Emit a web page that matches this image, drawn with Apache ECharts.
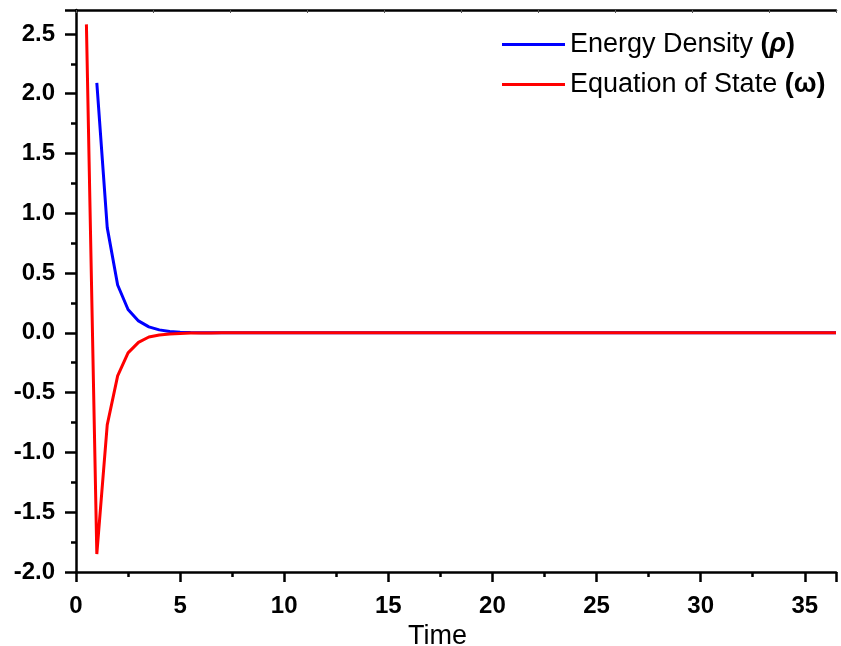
<!DOCTYPE html>
<html>
<head>
<meta charset="utf-8">
<script src="https://cdn.jsdelivr.net/npm/echarts@6/dist/echarts.min.js"></script>
<style>html,body{margin:0;padding:0;background:#fff}#c{width:841px;height:646px}</style>
</head>
<body>
<div id="c"></div>
<script>
var times = [0.5, 1, 1.5, 2, 2.5, 3, 3.5, 4, 4.5, 5, 5.5, 6, 6.5, 7, 8, 9, 10, 12, 14, 16, 18, 20, 22, 24, 26, 28, 30, 32, 34, 36, 36.5];
var energyDensity = [null, 2.09, 0.88, 0.40, 0.195, 0.10, 0.05, 0.025, 0.012, 0.006, 0.003, 0.0015, 0.0008, 0.0004, 0, 0, 0, 0, 0, 0, 0, 0, 0, 0, 0, 0, 0, 0, 0, 0, 0];
var equationOfState = [2.58, -1.85, -0.77, -0.36, -0.167, -0.08, -0.035, -0.018, -0.009, -0.0045, -0.002, -0.001, -0.0005, -0.0002, 0, 0, 0, 0, 0, 0, 0, 0, 0, 0, 0, 0, 0, 0, 0, 0, 0];
var yTicks = ['-2.0', '-1.5', '-1.0', '-0.5', '0.0', '0.5', '1.0', '1.5', '2.0', '2.5'];

function pairs(ys) {
  var out = [];
  for (var i = 0; i < times.length; i++) {
    if (ys[i] !== null) out.push([times[i], ys[i]]);
  }
  return out;
}

var FF = 'Liberation Sans, Arial, sans-serif';
var chart = echarts.init(document.getElementById('c'));
var labelFont = {fontFamily: FF, fontWeight: 'bold', fontSize: 24, color: '#000'};
chart.setOption({
  animation: false,
  grid: {left: 76, right: 5, top: 10, bottom: 74, containLabel: false, outerBoundsMode: 'none'},
  legend: {
    left: 497, top: 26, orient: 'vertical', itemGap: 13,
    itemWidth: 63, itemHeight: 3, icon: 'rect',
    textStyle: {fontFamily: FF, fontSize: 27, color: '#000', padding: [0, 0, 0, 0],
      rich: {b: {fontFamily: FF, fontSize: 27, fontWeight: 'bold'},
             i: {fontFamily: FF, fontSize: 27, fontWeight: 'bold', fontStyle: 'italic'}}},
    formatter: function (n) {
      if (n === 'Energy Density (ρ)') return 'Energy Density {b|(}{i|ρ}{b|)}';
      return 'Equation of State {b|(ω)}';
    },
    data: ['Energy Density (ρ)', 'Equation of State (ω)']
  },
  xAxis: [{
    type: 'value', min: 0, max: 36.5, interval: 5,
    name: 'Time', nameLocation: 'middle', nameGap: 45,
    nameTextStyle: {fontFamily: FF, fontSize: 27, color: '#000', padding: [0, 37, 0, 0]},
    axisLine: {show: true, onZero: false, lineStyle: {color: '#000', width: 2.5}},
    axisTick: {show: true, length: 10, lineStyle: {color: '#000', width: 2.5}},
    minorTick: {show: true, splitNumber: 2, length: 5, lineStyle: {color: '#000', width: 2.5}},
    axisLabel: Object.assign({margin: 22, showMaxLabel: false}, labelFont),
    splitLine: {show: false}
  }, {
    type: 'value', position: 'top', min: 0, max: 36.5, interval: 3.7,
    axisLine: {show: true, onZero: false, lineStyle: {color: '#000', width: 2.5}},
    axisTick: {show: true, inside: true, length: 3, lineStyle: {color: '#555', width: 1}},
    axisLabel: {show: false}, splitLine: {show: false}
  }],
  yAxis: {
    type: 'value', min: -2, max: 2.7, interval: 0.5,
    axisLine: {show: true, onZero: false, lineStyle: {color: '#000', width: 2.5}},
    axisTick: {show: true, length: 11, lineStyle: {color: '#000', width: 2.5}},
    minorTick: {show: true, splitNumber: 2, length: 5, lineStyle: {color: '#000', width: 2.5}},
    axisLabel: Object.assign({margin: 21, showMaxLabel: false, formatter: function (v) {
      var i = Math.round((v + 2) / 0.5); return yTicks[i] !== undefined ? yTicks[i] : '';
    }}, labelFont),
    splitLine: {show: false}
  },
  series: [{
    name: 'Energy Density (ρ)', type: 'line', showSymbol: false, symbol: 'none',
    data: pairs(energyDensity), lineStyle: {color: '#0000ff', width: 3}, itemStyle: {color: '#0000ff'}, z: 2
  }, {
    name: 'Equation of State (ω)', type: 'line', showSymbol: false, symbol: 'none',
    data: pairs(equationOfState), lineStyle: {color: '#ff0000', width: 3}, itemStyle: {color: '#ff0000'}, z: 3
  }]
});
</script>
</body>
</html>
